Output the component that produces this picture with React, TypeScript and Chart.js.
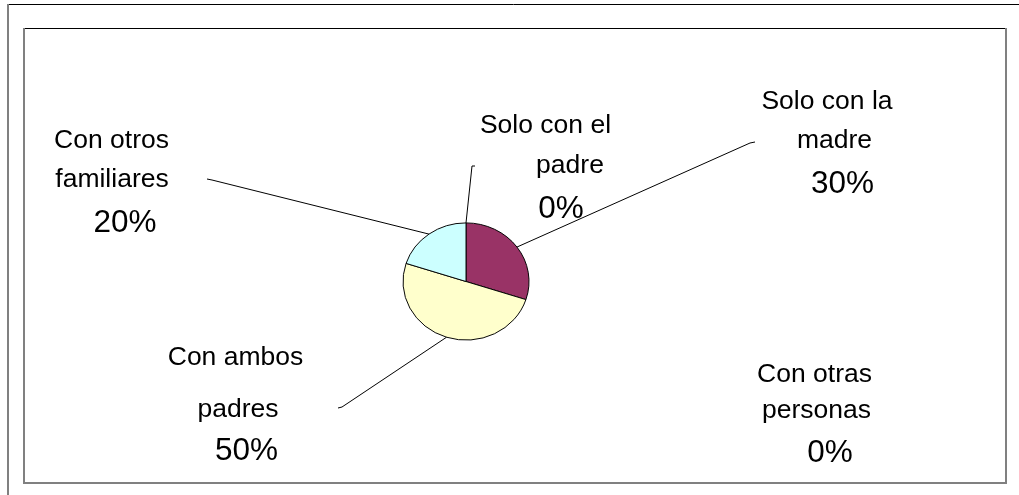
import React, { useEffect, useRef } from "react";
import { Chart, registerables } from "chart.js";

Chart.register(...registerables);

// ---- data ----
const categories = [
  "Solo con la madre",
  "Con otras personas",
  "Con ambos padres",
  "Con otros familiares",
  "Solo con el padre",
];
const values = [30, 0, 50, 20, 0];
const labelLines = [
  ["Solo con la", "madre"],
  ["Con otras", "personas"],
  ["Con ambos", "padres"],
  ["Con otros", "familiares"],
  ["Solo con el", "padre"],
];
const sliceColors = ["#993366", "#9999FF", "#FFFFCC", "#CCFFFF", "#660066"];

// ---- layout (label placement, not data) ----
type Pt = [number, number];
const labelLayout: { lines: Pt[]; pct: Pt; leader: Pt[] | null }[] = [
  { lines: [[827, 109], [834.5, 148]], pct: [842.5, 193], leader: [[750, 143], [755, 142]] },
  { lines: [[814.5, 382], [816.5, 418]], pct: [830, 462], leader: null },
  { lines: [[235.5, 365], [238, 417]], pct: [246.5, 460], leader: [[342, 407], [338, 408]] },
  { lines: [[111.5, 148], [112, 187]], pct: [125, 232], leader: [[212, 180], [207, 179]] },
  { lines: [[545.5, 133], [570, 173]], pct: [561, 218], leader: [[472, 166], [475, 166]] },
];

const W = 1019;
const H = 495;
const PIE_CX = 466;
const PIE_CY = 281.5;
const PIE_R = 63;
const Y_SCALE = 0.93;

const framePlugin = {
  id: "frames",
  beforeDraw(chart: any) {
    const ctx = chart.ctx as CanvasRenderingContext2D;
    ctx.save();
    ctx.fillStyle = "#ffffff";
    ctx.fillRect(0, 0, W, H);
    // outer frame
    ctx.strokeStyle = "#000000";
    ctx.lineWidth = 1;
    ctx.beginPath();
    ctx.moveTo(8, 4.5);
    ctx.lineTo(W, 4.5);
    ctx.stroke();
    ctx.strokeStyle = "#808080";
    ctx.lineWidth = 2;
    ctx.beginPath();
    ctx.moveTo(8, 4);
    ctx.lineTo(8, H);
    ctx.stroke();
    // inner plot frame
    ctx.strokeStyle = "#000000";
    ctx.lineWidth = 1;
    ctx.beginPath();
    ctx.moveTo(24, 28.5);
    ctx.lineTo(1006, 28.5);
    ctx.stroke();
    ctx.strokeStyle = "#808080";
    ctx.lineWidth = 2;
    ctx.beginPath();
    ctx.moveTo(24, 28);
    ctx.lineTo(24, 483);
    ctx.lineTo(1006, 483);
    ctx.lineTo(1006, 28);
    ctx.stroke();
    ctx.restore();
  },
  beforeDatasetsDraw(chart: any) {
    const ctx = chart.ctx as CanvasRenderingContext2D;
    const meta = chart.getDatasetMeta(0);
    const arc = meta.data[0] as any;
    ctx.save();
    ctx.translate(arc.x, arc.y);
    ctx.scale(1, Y_SCALE);
    ctx.translate(-arc.x, -arc.y);
  },
  afterDatasetsDraw(chart: any) {
    chart.ctx.restore();
  },
  afterDraw(chart: any) {
    const ctx = chart.ctx as CanvasRenderingContext2D;
    const meta = chart.getDatasetMeta(0);
    ctx.save();
    ctx.strokeStyle = "#000000";
    ctx.lineWidth = 1;
    ctx.fillStyle = "#000000";
    ctx.textAlign = "center";
    ctx.textBaseline = "alphabetic";
    meta.data.forEach((el: any, i: number) => {
      const lay = labelLayout[i];
      if (lay.leader) {
        const mid = (el.startAngle + el.endAngle) / 2;
        const sx = el.x + Math.cos(mid) * el.outerRadius;
        const sy = el.y + Math.sin(mid) * el.outerRadius * Y_SCALE;
        ctx.beginPath();
        ctx.moveTo(sx, sy);
        lay.leader.forEach((p) => ctx.lineTo(p[0], p[1]));
        ctx.stroke();
      }
      ctx.font = "26.5px 'Liberation Sans', Arial, sans-serif";
      labelLines[i].forEach((t, j) => {
        const p = lay.lines[j];
        ctx.fillText(t, p[0], p[1]);
      });
      ctx.font = "31.5px 'Liberation Sans', Arial, sans-serif";
      ctx.fillText(`${values[i]}%`, lay.pct[0], lay.pct[1]);
    });
    ctx.restore();
  },
};

export default function App() {
  const ref = useRef<HTMLCanvasElement | null>(null);
  useEffect(() => {
    if (!ref.current) return;
    const side = PIE_R * 2 + 1;
    const chart = new Chart(ref.current, {
      type: "pie",
      data: {
        labels: categories,
        datasets: [
          {
            data: values,
            backgroundColor: sliceColors,
            borderColor: "#000000",
            borderWidth: 1,
          },
        ],
      },
      options: {
        animation: false,
        responsive: false,
        devicePixelRatio: 1,
        layout: {
          padding: {
            left: PIE_CX - side / 2,
            right: W - (PIE_CX + side / 2),
            top: PIE_CY - side / 2,
            bottom: H - (PIE_CY + side / 2),
          },
        },
        plugins: {
          legend: { display: false },
          tooltip: { enabled: false },
        },
      },
      plugins: [framePlugin],
    });
    return () => chart.destroy();
  }, []);
  return (
    <div style={{ position: "fixed", left: 0, top: 0, width: W, height: H }}>
      <canvas ref={ref} width={W} height={H} style={{ display: "block" }} />
    </div>
  );
}
